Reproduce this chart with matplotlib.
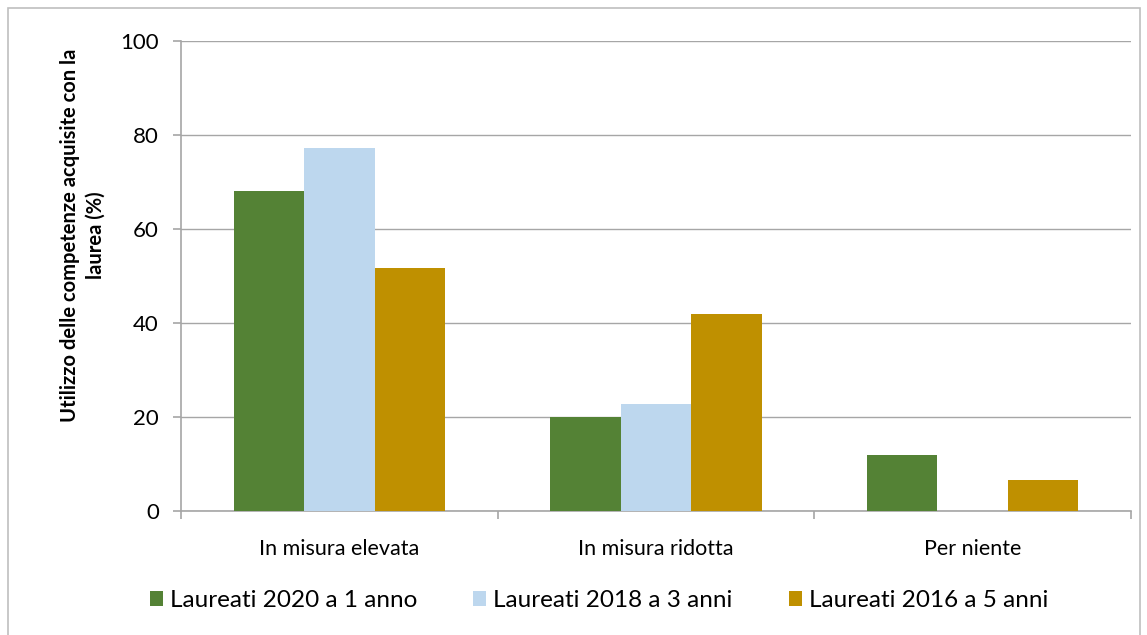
import matplotlib
matplotlib.use("Agg")
import matplotlib.pyplot as plt
import numpy as np
from matplotlib.patches import Rectangle

categories = ["In misura elevata", "In misura ridotta", "Per niente"]
series_names = ["Laureati 2020 a 1 anno", "Laureati 2018 a 3 anni", "Laureati 2016 a 5 anni"]
laureati_2020 = [68.0, 20.1, 11.9]
laureati_2018 = [77.3, 22.7, 0.0]
laureati_2016 = [51.6, 41.9, 6.5]
colors = ["#548235", "#BDD7EE", "#BF9000"]

plt.rcParams["font.family"] = ["Lato", "DejaVu Sans"]

W, H = 1147, 635
fig = plt.figure(figsize=(W / 100, H / 100), dpi=100)
ax = fig.add_axes([181 / W, 1 - 511 / H, (1131 - 181) / W, (511 - 41) / H])

# outer frame like the spreadsheet chart area
fig.patches.append(Rectangle((8 / W, -0.01), (1140 - 8) / W, 1 - 8 / H + 0.01,
                             transform=fig.transFigure, fill=False,
                             edgecolor="#bfbfbf", linewidth=1.2))

x = np.arange(len(categories))
bw = 0.2226
for i, (vals, name) in enumerate(zip([laureati_2020, laureati_2018, laureati_2016], series_names)):
    ax.bar(x + (i - 1) * bw, vals, width=bw, color=colors[i], label=name, zorder=3)

ax.set_xlim(-0.5, len(categories) - 0.5)
ax.set_ylim(0, 100)
ax.set_yticks(range(0, 101, 20))
ax.set_xticks(x)
ax.set_xticklabels(categories, fontsize=15.5)
ax.set_xticks(np.arange(-0.5, len(categories), 1), minor=True)
ax.tick_params(axis="x", which="major", length=0, pad=20)
ax.tick_params(axis="x", which="minor", length=6, color="#a6a6a6", width=1.2)
ax.tick_params(axis="y", length=6, color="#a6a6a6", width=1.2, labelsize=16, pad=10)
ax.yaxis.grid(True, color="#a6a6a6", linewidth=1.0, zorder=0)
for s in ["top", "right"]:
    ax.spines[s].set_visible(False)
for s in ["left", "bottom"]:
    ax.spines[s].set_color("#a6a6a6")
    ax.spines[s].set_linewidth(1.2)

ax.set_ylabel("Utilizzo delle competenze acquisite con la\nlaurea (%)",
              fontsize=14.5, fontweight="bold", linespacing=1.4)
ax.yaxis.set_label_coords(-0.079, 0.587)

ax.legend(loc="center", bbox_to_anchor=(0.44, -0.191), ncol=3, frameon=False,
          fontsize=17.5, handlelength=0.53, handleheight=0.53, handletextpad=0.3,
          columnspacing=2.3)

fig.savefig("out.png", dpi=100)
